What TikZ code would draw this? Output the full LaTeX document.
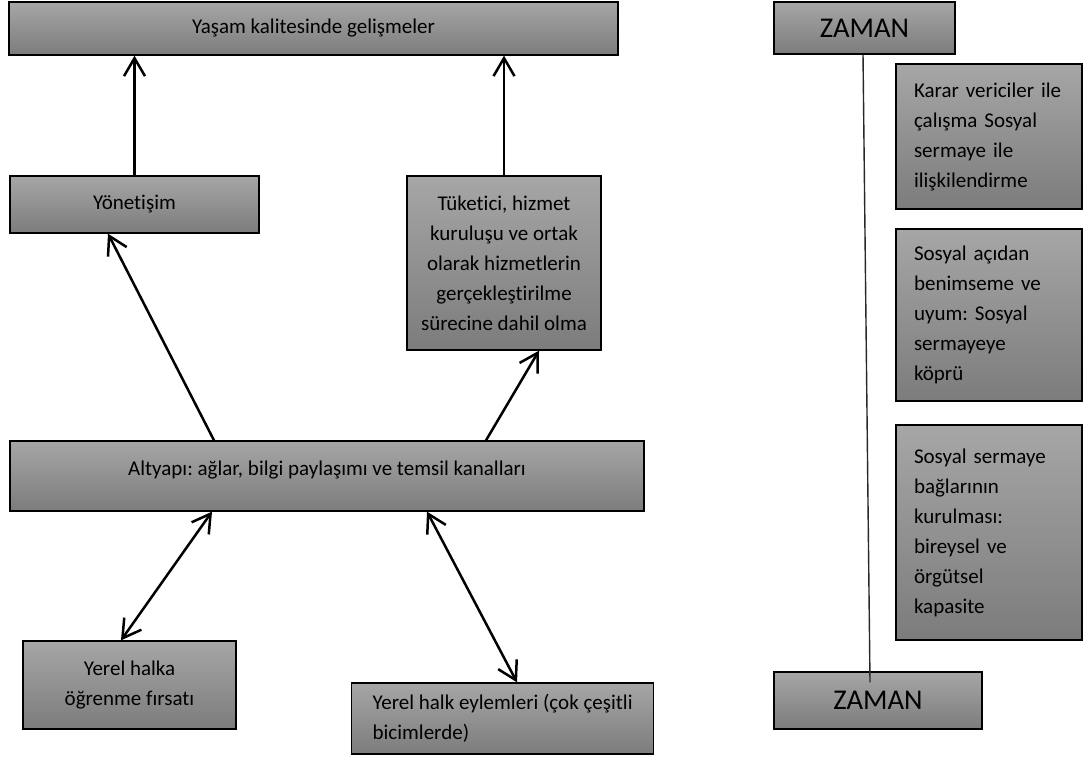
\documentclass[tikz,border=0pt]{standalone}
\usepackage{fontspec}
\setmainfont{Carlito}[Ligatures={NoCommon}]
\usetikzlibrary{arrows.meta}
\definecolor{boxTop}{RGB}{166,166,166}
\definecolor{boxBottom}{RGB}{124,124,124}
\definecolor{timeLine}{RGB}{40,40,40}
\frenchspacing

\begin{document}
\begin{tikzpicture}[x=0.5pt, y=-0.5pt,
    grayBox/.style={draw=black, line width=0.65pt, top color=boxTop, bottom color=boxBottom,
      inner sep=0pt, align=center, font=\fontsize{10.5}{15}\selectfont},
    sideBox/.style={grayBox, inner xsep=9pt, text width=75pt, align=left, minimum width=93pt},
    timeBox/.style={grayBox, font=\fontsize{14.3}{17}\selectfont},
    link/.style={line width=1.25pt, -{Straight Barb[length=9pt, width=10.5pt]}},
    biLink/.style={line width=1.25pt, {Straight Barb[length=9pt, width=10.5pt]}-{Straight Barb[length=9pt, width=10.5pt]}}]
  \useasboundingbox (0,0) rectangle (1090,760);

  % left part: levels of the model
  \node[grayBox, minimum width=304.5pt, minimum height=26.5pt] (goal) at (313.5,28.5) {Yaşam kalitesinde gelişmeler};
  \node[grayBox, minimum width=124.5pt, minimum height=28.5pt] (gov) at (134.5,204.5) {Yönetişim};
  \node[grayBox, minimum width=97pt, minimum height=87pt] (cons) at (504,263)
    {Tüketici, hizmet\\kuruluşu ve ortak\\olarak hizmetlerin\\gerçekleştirilme\\sürecine dahil olma};
  \node[grayBox, minimum width=317pt, minimum height=35pt, text depth=8pt] (infra) at (327,476)
    {Altyapı: ağlar, bilgi paylaşımı ve temsil kanalları};
  \node[grayBox, minimum width=106.5pt, minimum height=44pt] (learn) at (129.5,685)
    {Yerel halka\\öğrenme fırsatı};
  \node[grayBox, anchor=west, inner xsep=10.5pt, align=left, minimum height=35.5pt] (act) at (351,718.5)
    {Yerel halk eylemleri (çok çeşitli\\bicimlerde)};

  % arrows between levels
  \draw[link] (gov.north) -- (gov.north |- goal.south);
  \draw[link] (cons.north) -- (cons.north |- goal.south);
  \draw[link] ([xshift=-56.5pt]infra.north) -- ([xshift=-13.25pt]gov.south);
  \draw[link] ([xshift=79.5pt]infra.north) -- ([xshift=17.5pt]cons.south);
  \draw[biLink] ([xshift=-57.5pt]infra.south) -- ([xshift=-4.25pt]learn.north);
  \draw[biLink] ([xshift=50pt]infra.south) -- ([xshift=83pt]act.north west);

  % right part: time axis
  \node[timeBox, minimum width=90.5pt, minimum height=26pt] (time1) at (864.5,28) {ZAMAN};
  \node[timeBox, minimum width=104pt, minimum height=28.5pt] (time2) at (878,700.5) {ZAMAN};
  \node[sideBox, minimum height=72.5pt] (stage1) at (989,136.5)
    {Karar vericiler ile\\çalışma Sosyal\\sermaye ile\\ilişkilendirme};
  \node[sideBox, minimum height=86pt] (stage2) at (989,315)
    {Sosyal açıdan\\benimseme ve\\uyum: Sosyal\\sermayeye\\köprü};
  \node[sideBox, minimum height=107.5pt] (stage3) at (989,532.5)
    {Sosyal sermaye\\bağlarının\\kurulması:\\bireysel ve\\örgütsel\\kapasite};
  \draw[timeLine, line width=0.7pt] ([xshift=-0.75pt]time1.south) -- ([xshift=-4pt, yshift=-5.5pt]time2.north);
\end{tikzpicture}
\end{document}
